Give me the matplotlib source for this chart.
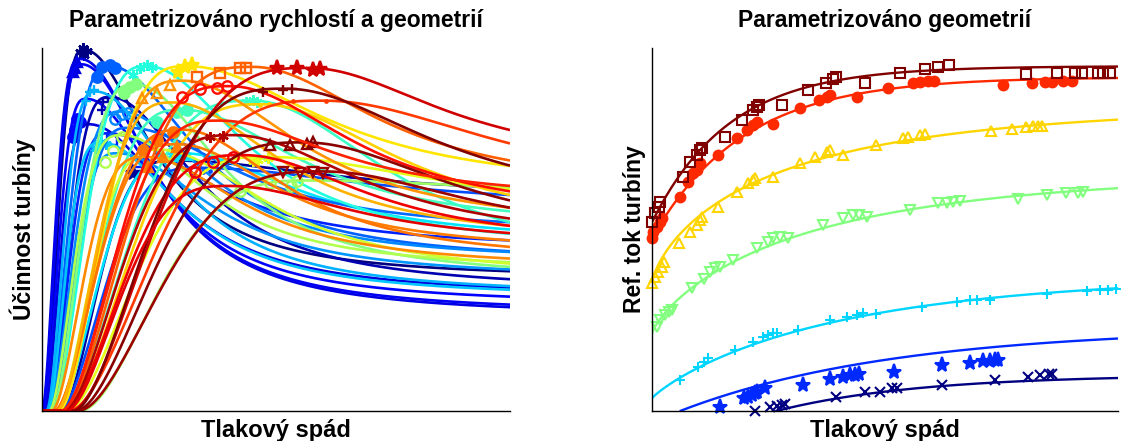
import numpy as np
import matplotlib
matplotlib.use('Agg')
from matplotlib import pyplot as plt
from matplotlib.colors import LinearSegmentedColormap

plt.rcParams['font.family'] = ['Liberation Sans', 'DejaVu Sans']

# ---- left panel: efficiency curves ----
# jet colour index, start on x axis, peak position, peak height, value at right edge, decay width
eff_jet = [0.00, 0.10, 0.115, 0.125, 0.09, 0.05, 0.16, 0.03, 0.22, 0.26, 0.30, 0.32, 0.35, 0.27,
           0.20, 0.23, 0.41, 0.44, 0.43, 0.50, 0.55, 0.53, 0.60, 0.58, 0.65, 0.67, 0.73, 0.75,
           0.78, 0.76, 0.74, 0.82, 0.70, 0.86, 0.92, 0.89, 0.95, 1.00, 0.99, 0.97, 0.84, 0.90]
eff_start = [0.5, 0.0, 0.1, 0.4, 0.6, 1.2, 1.5, 4.0, 0.8, 1.3, 1.0, 1.2, 3.0, 1.8,
             3.5, 2.0, 2.0, 3.0, 4.0, 2.0, 1.5, 8.0, 5.0, 3.0, 3.5, 4.5, 3.0, 2.5,
             4.0, 2.5, 2.0, 5.5, 3.0, 4.0, 6.0, 4.5, 4.5, 6.5, 7.0, 7.5, 4.0, 5.0]
eff_peak_x = [9.0, 8.2, 8.5, 9.5, 10.0, 14.5, 14.0, 28.0, 14.5, 17.0, 11.5, 12.5, 30.0, 16.0,
              33.0, 18.5, 22.5, 30.0, 45.0, 20.0, 17.0, 57.0, 48.0, 25.0, 31.0, 47.0, 30.0, 29.0,
              45.0, 30.0, 22.0, 60.0, 28.0, 40.0, 57.0, 43.0, 41.0, 52.0, 56.0, 60.0, 38.0, 40.0]
eff_peak_y = [99.5, 97.0, 95.5, 86.0, 79.0, 86.5, 76.5, 69.0, 95.0, 82.5, 88.0, 74.0, 71.0, 71.0,
              67.0, 78.0, 95.0, 83.0, 85.5, 90.0, 76.0, 63.5, 70.0, 72.0, 95.0, 84.5, 91.0, 73.5,
              94.8, 77.5, 70.0, 85.5, 85.0, 89.5, 94.5, 70.5, 76.0, 88.8, 74.0, 66.0, 80.0, 62.0]
eff_end_y = [38.5, 28.6, 29.3, 31.5, 34.0, 36.3, 47.0, 61.5, 44.0, 43.8, 34.4, 33.4, 50.0, 39.0,
             59.5, 52.0, 48.8, 55.0, 52.0, 39.7, 41.0, 61.5, 61.0, 40.6, 67.5, 59.5, 56.0, 47.0,
             69.0, 45.2, 42.0, 73.7, 51.0, 60.5, 77.4, 51.0, 53.0, 67.6, 58.0, 56.0, 62.0, 49.0]
eff_width = [17, 18, 18, 19, 21, 22, 25, 40, 22, 22, 20, 21, 30, 24,
             45, 28, 25, 30, 35, 22, 22, 60, 45, 28, 35, 35, 30, 26,
             32, 26, 25, 45, 28, 32, 35, 32, 33, 38, 38, 38, 30, 32]

# measured points on the left panel, per curve: marker, filled, x list, y list
ast = (6, 2, 0)
eff_marker = {
    0: (ast, True, [8.2, 8.8, 9.6, 9.0], [99.0, 100.0, 99.3, 98.0]),
    1: ('^', True, [6.7, 7.1, 7.5], [93.3, 94.6, 96.2]),
    3: ('o', True, [6.7, 7.1, 7.4, 8.1], [75.5, 77.4, 80.5, 79.5]),
    5: ('+', True, [12.8, 13.1, 14.2], [82.9, 85.2, 86.1]),
    6: ('s', False, [14.9, 20.4], [74.6, 68.6]),
    7: ('*', True, [19.4], [65.5]),
    8: ('o', True, [11.7, 12.8, 14.5, 15.5], [92.0, 94.8, 95.3, 94.5]),
    9: ('o', False, [15.5, 17.0, 18.4], [80.5, 81.8, 82.0]),
    10: ('+', True, [9.5, 10.3, 11.2], [85.5, 88.0, 88.5]),
    11: (ast, True, [11.5, 12.6, 13.6], [72.5, 74.2, 73.6]),
    12: ('^', True, [28.0, 29.5, 31.0], [70.2, 70.8, 70.5]),
    14: ('.', True, [34.4, 36.0], [65.9, 66.1]),
    16: (ast, True, [19.5, 21.0, 22.4, 23.5], [92.5, 94.5, 95.3, 94.8]),
    17: ('o', True, [24.5, 28.8, 31.0], [79.7, 82.4, 83.0]),
    18: (ast, True, [43.5, 45.0, 46.0], [85.0, 85.6, 85.0]),
    19: ('o', True, [17.5, 18.8, 20.0], [87.5, 89.3, 90.0]),
    20: ('o', False, [13.5, 15.2, 17.0], [68.5, 71.5, 75.5]),
    21: ('o', False, [42.4, 48.8, 53.1, 54.5], [60.5, 62.8, 61.9, 63.3]),
    22: (ast, True, [45.0, 46.2, 48.3], [68.8, 69.2, 69.7]),
    24: ('*', True, [29.0, 30.5, 32.0], [93.5, 94.8, 95.2]),
    25: ('.', True, [46.6, 48.5], [84.4, 84.5]),
    26: ('^', False, [21.3, 24.5, 27.4], [86.1, 87.5, 89.7]),
    27: ('^', True, [22.7, 25.9, 28.8], [67.3, 70.0, 72.8]),
    28: ('s', False, [33.1, 38.0, 42.3, 43.5], [92.0, 93.0, 94.4, 94.6]),
    29: ('o', True, [21.6, 24.5, 28.0], [71.9, 74.6, 76.9]),
    31: ('.', True, [53.6, 60.7], [85.4, 85.4]),
    33: ('o', False, [29.9, 33.8, 37.3, 39.5], [86.4, 88.6, 89.1, 89.5]),
    34: ('*', True, [50.2, 54.4, 57.9, 59.5], [94.4, 94.4, 93.9, 94.2]),
    35: ('o', False, [32.7, 36.5, 40.8], [65.9, 68.7, 70.0]),
    36: (ast, True, [35.9, 38.7], [75.4, 75.8]),
    37: ('+', True, [47.2, 51.5, 53.5], [88.0, 88.4, 88.6]),
    38: ('^', False, [48.7, 53.0, 56.6, 58.0], [73.2, 73.2, 73.6, 74.0]),
    39: ('v', False, [51.5, 55.1, 58.0, 60.0], [65.8, 65.5, 65.8, 65.5]),
}

# ---- right panel: reference flow curves and measured points ----
flow_jet = [0.0, 1 / 6, 2 / 6, 3 / 6, 4 / 6, 5 / 6, 1.0]
flow_x0 = [27.0, 6.1, 0.0, 0.0, 0.0, 0.0, 0.0]
flow_y0 = [0.0, 0.0, 3.5, 21.4, 35.2, 47.6, 52.0]
flow_amp = [10.0, 23.0, 34.0, 44.0, 49.0, 44.4, 43.0]
flow_scale = [31.0, 47.0, 41.2, 34.0, 28.5, 19.8, 16.8]
flow_power = [1.0, 1.0, 0.89, 0.8, 0.73, 1.0, 1.0]
flow_marker = ['x', '*', '+', 'v', '^', 'o', 's']
flow_filled = [True, True, True, False, False, True, False]

navy_x = [22.4, 25.7, 27.1, 28.2, 28.9, 40.1, 46.3, 49.6, 52.1, 53.2, 63.0, 74.6, 81.8, 84.3, 86.2, 86.9]
navy_y = [0.0, 1.0, 1.4, 1.7, 1.8, 3.9, 5.1, 5.3, 6.2, 6.4, 7.2, 8.5, 9.5, 9.9, 10.2, 10.2]
blue_x = [14.8, 19.9, 20.9, 21.7, 22.4, 22.8, 24.6, 32.9, 38.7, 41.6, 43.0, 44.1, 44.9, 52.5, 63.0,
          69.1, 72.0, 73.5, 74.6, 75.3]
blue_y = [1.2, 3.5, 3.9, 4.4, 4.9, 5.3, 6.2, 7.2, 8.7, 9.3, 9.9, 9.9, 10.2, 10.8, 12.7,
          13.3, 13.9, 13.9, 14.0, 14.0]
cyan_x = [6.1, 10.1, 11.2, 12.2, 18.0, 22.0, 24.2, 25.3, 26.4, 27.1, 31.8, 38.7, 42.3, 44.5, 45.9,
          48.8, 58.6, 66.2, 69.1, 70.6, 73.5, 85.8, 94.5, 97.4, 99.2, 100.8]
cyan_y = [8.5, 12.2, 13.6, 14.5, 16.8, 19.1, 20.5, 20.9, 21.4, 21.4, 22.3, 25.1, 26.0, 26.4, 26.9,
          26.7, 28.7, 30.1, 30.6, 30.6, 30.6, 32.2, 33.1, 33.3, 33.3, 33.5]
green_x = [1.0, 1.7, 2.8, 3.6, 4.3, 8.6, 11.2, 12.6, 13.7, 14.8, 17.7, 22.8, 25.3, 26.4, 27.8, 29.6,
           37.2, 41.6, 43.8, 44.9, 46.7, 56.1, 62.2, 64.1, 65.5, 67.0, 79.6, 85.8, 90.1, 92.7, 93.8]
green_y = [23.2, 25.1, 26.4, 27.4, 27.8, 33.8, 36.5, 38.4, 39.3, 39.8, 41.6, 44.8, 46.6, 47.6, 48.0, 47.6,
           51.2, 53.1, 54.0, 54.0, 53.5, 55.4, 57.2, 57.4, 57.7, 57.9, 58.3, 59.5, 60.0, 60.1, 60.4]
yellow_x = [0.0, 0.7, 1.4, 2.1, 2.5, 5.9, 8.3, 9.7, 10.4, 10.8, 14.4, 18.4, 20.9, 22.0, 22.4, 26.4,
            32.2, 35.4, 38.0, 38.7, 41.6, 48.8, 54.6, 55.7, 58.3, 59.3, 73.8, 78.2, 81.4, 82.9, 84.0, 84.7]
yellow_y = [35.2, 37.0, 38.4, 39.8, 41.1, 46.2, 49.4, 51.2, 52.6, 53.5, 56.3, 60.4, 62.7, 63.6, 64.1, 64.6,
            68.2, 70.1, 71.4, 71.9, 70.5, 73.3, 75.1, 75.4, 76.0, 76.2, 77.0, 77.6, 78.1, 78.5, 78.5, 78.6]
red_x = [0.0, 0.3, 1.0, 1.7, 2.1, 6.1, 7.9, 9.0, 9.7, 10.4, 14.4, 18.4, 20.6, 22.0, 22.8, 26.4,
         32.2, 36.2, 38.0, 38.7, 44.5, 51.4, 56.8, 58.3, 60.1, 61.2, 76.4, 82.5, 85.4, 86.9, 89.4, 91.2]
red_y = [47.6, 49.4, 50.8, 52.2, 53.1, 59.0, 63.2, 65.5, 66.4, 68.2, 70.5, 75.1, 77.4, 78.8, 79.7, 79.2,
         83.4, 85.7, 86.6, 87.1, 86.4, 88.9, 90.3, 90.5, 90.9, 91.0, 89.8, 90.3, 90.5, 90.5, 91.0, 91.0]
maroon_x = [0.0, 0.65, 1.6, 1.7, 6.7, 8.3, 9.7, 10.4, 10.8, 15.9, 19.5, 22.0, 22.8, 23.3, 28.2, 34.0,
            37.8, 39.4, 40.1, 46.3, 53.9, 59.3, 62.2, 64.6, 81.4, 88.0, 92.0, 93.4, 97.0, 98.1, 99.6]
maroon_y = [52.2, 54.5, 56.3, 57.7, 64.4, 68.7, 70.5, 71.9, 72.4, 75.6, 80.3, 82.9, 83.8, 84.3, 84.3, 88.4,
            90.4, 91.4, 91.9, 90.4, 93.0, 94.1, 94.9, 95.3, 92.8, 93.0, 93.2, 93.2, 93.2, 93.2, 93.2]
flow_px = [navy_x, blue_x, cyan_x, green_x, yellow_x, red_x, maroon_x]
flow_py = [navy_y, blue_y, cyan_y, green_y, yellow_y, red_y, maroon_y]


def eff_curve(x, x0, xp, yp, ye, w):
    t = np.clip((x - x0) / (xp - x0), 0, 1)
    rise = yp * (1 - (1 - t) ** 3) ** 2
    le = 1 / (1 + ((100 - xp) / w) ** 2)
    a = (ye - yp * le) / (1 - le)
    fall = a + (yp - a) / (1 + ((x - xp) / w) ** 2)
    return np.where(x < xp, rise, fall)


def flow_curve(x, x0, y0, amp, c, p):
    d = np.clip(x - x0, 0, None)
    return y0 + amp * (1 - np.exp(-(d / c) ** p))


# MATLAB style jet
jet = LinearSegmentedColormap('mjet', {
    'red': [(0, 0, 0), (0.375, 0, 0), (0.625, 1, 1), (0.875, 1, 1), (1, 0.5, 0.5)],
    'green': [(0, 0, 0), (0.125, 0, 0), (0.375, 1, 1), (0.625, 1, 1), (0.875, 0, 0), (1, 0, 0)],
    'blue': [(0, 0.5, 0.5), (0.125, 1, 1), (0.375, 1, 1), (0.625, 0, 0), (1, 0, 0)],
})

fig = plt.figure(figsize=(11.24, 4.41), dpi=100)
ax1 = fig.add_axes([42 / 1124, 30 / 441, 468 / 1124, 363 / 441])
ax2 = fig.add_axes([652 / 1124, 30 / 441, 466 / 1124, 363 / 441])

x = np.linspace(0, 100, 600)
for i in range(len(eff_jet)):
    col = jet(eff_jet[i])
    y = eff_curve(x, eff_start[i], eff_peak_x[i], eff_peak_y[i], eff_end_y[i], eff_width[i])
    ax1.plot(x, y, color=col, lw=1.9, solid_capstyle='butt')
    if i in eff_marker:
        m, filled, mx, my = eff_marker[i]
        ms = 11 if m == '*' else (3.5 if m == '.' else 7.5)
        ax1.plot(mx, my, ls='none', marker=m, ms=ms, mew=1.7, color=col,
                 mfc=col if filled else 'none', clip_on=False)

x2 = np.linspace(0, 101.3, 600)
for i in range(len(flow_jet)):
    col = jet(flow_jet[i])
    y = flow_curve(x2, flow_x0[i], flow_y0[i], flow_amp[i], flow_scale[i], flow_power[i])
    keep = x2 >= flow_x0[i]
    ax2.plot(x2[keep], y[keep], color=col, lw=1.7)
    ms = 11 if flow_marker[i] == '*' else 7
    ax2.plot(flow_px[i], flow_py[i], ls='none', marker=flow_marker[i], ms=ms, mew=1.5, color=col,
             mfc=col if flow_filled[i] else 'none', clip_on=False)

ax1.set_xlim(0, 100)
ax1.set_ylim(0, 100)
ax2.set_xlim(0, 101.3)
ax2.set_ylim(0, 100)

for ax in (ax1, ax2):
    ax.set_xticks([])
    ax.set_yticks([])
    ax.spines['top'].set_visible(False)
    ax.spines['right'].set_visible(False)
    ax.spines['left'].set_linewidth(1.0)
    ax.spines['bottom'].set_linewidth(1.0)
    ax.set_xlabel('Tlakový spád', fontsize=17, fontweight='bold', labelpad=6)

ax1.set_ylabel('Účinnost turbíny', fontsize=16.5, fontweight='bold', labelpad=4)
ax2.set_ylabel('Ref. tok turbíny', fontsize=16.5, fontweight='bold', labelpad=4)
ax1.set_title('Parametrizováno rychlostí a geometrií', fontsize=16.5, fontweight='bold', pad=15)
ax2.set_title('Parametrizováno geometrií', fontsize=16.5, fontweight='bold', pad=15)

fig.savefig('out.png', dpi=100)
